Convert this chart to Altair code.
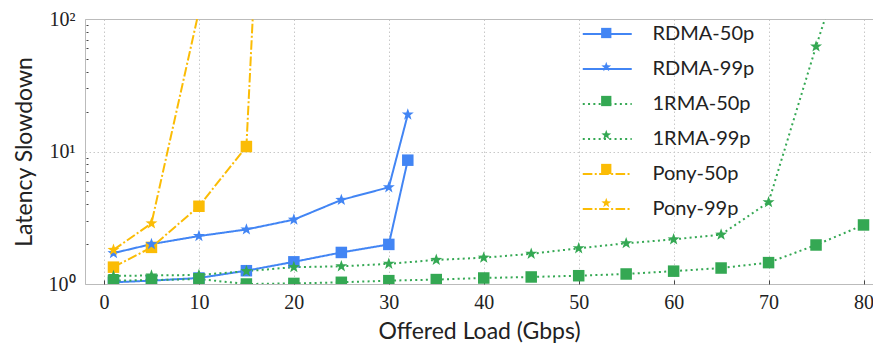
import math
import altair as alt
import pandas as pd

series_names = ["RDMA-50p", "RDMA-99p", "1RMA-50p", "1RMA-99p", "Pony-50p", "Pony-99p"]
series_colors = ["#4285F4", "#4285F4", "#34A853", "#34A853", "#FBBC05", "#FBBC05"]
series_dash = [[1, 0], [1, 0], [2, 3.3], [2, 3.3], [9.6, 2.4, 2, 2.4], [9.6, 2.4, 2, 2.4]]
series_marker = ["square", "star", "square", "star", "square", "star"]

x_rdma = [1, 5, 10, 15, 20, 25, 30, 32]
rdma_50 = [1.03, 1.06, 1.11, 1.26, 1.47, 1.73, 1.99, 8.6]
rdma_99 = [1.71, 2.0, 2.3, 2.58, 3.06, 4.31, 5.37, 19.0]

x_1rma = [1, 5, 10, 15, 20, 25, 30, 35, 40, 45, 50, 55, 60, 65, 70, 75, 80]
rma_50 = [1.06, 1.07, 1.09, 1.0, 1.01, 1.03, 1.06, 1.08, 1.11, 1.13, 1.155, 1.19, 1.25, 1.32, 1.45, 1.97, 2.79]
rma_99 = [1.15, 1.16, 1.17, 1.25, 1.34, 1.36, 1.42, 1.52, 1.58, 1.69, 1.86, 2.03, 2.17, 2.36, 4.14, 62, 800]

x_pony_50 = [1, 5, 10, 15, 16]
pony_50 = [1.34, 1.89, 3.86, 10.9, 310]
x_pony_99 = [1, 5, 10]
pony_99 = [1.81, 2.87, 115]

x_ticks = [0, 10, 20, 30, 40, 50, 60, 70, 80]
y_ticks = [1, 10, 100]
y_minor = [2, 3, 4, 5, 6, 7, 8, 9, 20, 30, 40, 50, 60, 70, 80, 90]

marker_keys = ["m:" + s for s in series_names]

rows = []
for name, xs, ys in [("RDMA-50p", x_rdma, rdma_50), ("RDMA-99p", x_rdma, rdma_99),
                     ("1RMA-50p", x_1rma, rma_50), ("1RMA-99p", x_1rma, rma_99),
                     ("Pony-50p", x_pony_50, pony_50), ("Pony-99p", x_pony_99, pony_99)]:
    idx = series_names.index(name)
    for a, b in zip(xs, ys):
        rows.append({"series": name, "sm": marker_keys[idx], "load": a, "slow": b,
                     "marker": series_marker[idx]})
df = pd.DataFrame(rows)


def star_path(R, r):
    pts = []
    for k in range(10):
        ang = -math.pi / 2 + k * math.pi / 5
        rad = R if k % 2 == 0 else r
        pts.append(f"{rad*math.cos(ang):.4f},{rad*math.sin(ang):.4f}")
    return "M" + "L".join(pts) + "Z"


line_p = "M-2,0L2,0"
sq_p = "M-0.42,-0.42L0.42,-0.42L0.42,0.42L-0.42,0.42Z"
st_p = star_path(0.42, 0.17)
shape_range = [sq_p if m == "square" else st_p for m in series_marker]

color_scale = alt.Scale(domain=series_names, range=series_colors)
dash_scale = alt.Scale(domain=series_names, range=series_dash)
fill_scale = alt.Scale(domain=marker_keys, range=series_colors)
shape_scale = alt.Scale(domain=marker_keys, range=shape_range)
x_scale = alt.Scale(domain=[-2, 81], nice=False, zero=False)
y_scale = alt.Scale(type="log", domain=[1, 100], nice=False)

LX, LY, LSIZE, RPAD, LOFF = 508.75, 1.5, 600, 11, 31.75

line_legend = alt.Legend(
    title=None, orient="none", legendX=LX, legendY=LY,
    labelFont="Lato", labelFontSize=20, labelColor="#222", labelOffset=LOFF,
    symbolSize=LSIZE, symbolStrokeWidth=2, rowPadding=RPAD, symbolType=line_p, zindex=0,
)
marker_legend = alt.Legend(
    title=None, orient="none", legendX=LX, legendY=LY,
    labelFont="Lato", labelFontSize=20, labelExpr="''", labelOffset=LOFF,
    symbolSize=LSIZE, symbolStrokeWidth=0, rowPadding=RPAD, symbolOpacity=1, zindex=1,
)

base = alt.Chart(df)

lines = base.mark_line(strokeWidth=2, clip=True).encode(
    x=alt.X("load:Q", scale=x_scale, axis=alt.Axis(
        title="Offered Load (Gbps)", values=x_ticks, grid=True, gridColor="#c8c8c8",
        gridDash=[1.5, 2.5], ticks=False, domainColor="#bbbbbb", labelFont="Liberation Serif",
        labelFontSize=20, labelColor="#222", labelPadding=8, titleFont="Lato",
        titleFontSize=23, titleFontWeight="normal", titleColor="#222", titlePadding=8)),
    y=alt.Y("slow:Q", scale=y_scale, axis=alt.Axis(
        title="Latency Slowdown", values=y_ticks, grid=True, gridColor="#c8c8c8",
        gridDash=[1.5, 2.5], ticks=False, domainColor="#bbbbbb", labelFont="Liberation Serif",
        labelFontSize=20, labelColor="#222", labelPadding=10,
        labelExpr="'10' + (datum.value == 1 ? '⁰' : datum.value == 10 ? '¹' : '²')",
        titleFont="Lato", titleFontSize=23, titleFontWeight="normal", titleColor="#222",
        titlePadding=12)),
    color=alt.Color("series:N", scale=color_scale, legend=line_legend),
    strokeDash=alt.StrokeDash("series:N", scale=dash_scale, legend=line_legend),
    order="load:Q",
)

squares = base.transform_filter(alt.datum.marker == "square").mark_point(
    filled=True, opacity=1, size=750, clip=True, strokeWidth=0).encode(
    x=alt.X("load:Q", scale=x_scale, axis=alt.Axis(
        values=x_ticks, orient="bottom", offset=-4, tickSize=4, tickColor="#444",
        domain=False, labels=False, grid=False, title=None)),
    y=alt.Y("slow:Q", scale=y_scale, axis=alt.Axis(
        values=y_minor, orient="left", offset=-3, tickSize=2, tickColor="#444",
        domain=False, labels=False, grid=False, title=None)),
    fill=alt.Fill("sm:N", scale=fill_scale, legend=marker_legend),
    shape=alt.Shape("sm:N", scale=shape_scale, legend=marker_legend),
)

stars = base.transform_filter(alt.datum.marker == "star").mark_point(
    filled=True, opacity=1, size=900, clip=True, strokeWidth=0).encode(
    x=alt.X("load:Q", scale=x_scale, axis=alt.Axis(
        orient="top", domainColor="#bbbbbb", ticks=False, labels=False, grid=False,
        title=None)),
    y=alt.Y("slow:Q", scale=y_scale, axis=None),
    fill=alt.Fill("sm:N", scale=fill_scale, legend=marker_legend),
    shape=alt.Shape("sm:N", scale=shape_scale, legend=marker_legend),
)

chart = alt.layer(lines, squares, stars).resolve_scale(
    x="shared", y="shared").resolve_axis(x="independent", y="independent").properties(
    width=788, height=265,
    autosize=alt.AutoSizeParams(type="none"),
    padding={"left": 77, "top": 11, "right": 0, "bottom": 60},
).configure_view(stroke=None).configure(background="white")

chart.save("out.html", embed_options={"renderer": "svg", "actions": False})
